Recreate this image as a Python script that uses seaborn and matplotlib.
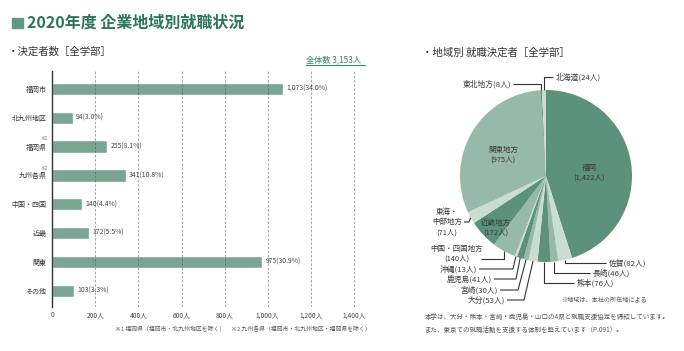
import matplotlib
matplotlib.use("Agg")
import matplotlib.pyplot as plt
import seaborn as sns
import numpy as np
import pandas as pd
from matplotlib.patches import Rectangle

# ---------------- data ----------------
bar_categories = ["福岡市", "北九州地区", "福岡県", "九州各県", "中国・四国", "近畿", "関東", "その他"]
bar_values = [1073, 94, 255, 341, 140, 172, 975, 103]
bar_pcts = [34.0, 3.0, 8.1, 10.8, 4.4, 5.5, 30.9, 3.3]
x_ticks = [0, 200, 400, 600, 800, 1000, 1200, 1400]
x_tick_labels = ["0", "200人", "400人", "600人", "800人", "1,000人", "1,200人", "1,400人"]
total_label = "全体数 3,153人"

pie_regions = ["福岡", "佐賀", "長崎", "熊本", "大分", "宮崎", "鹿児島", "沖縄",
               "中国・四国地方", "近畿地方", "東海・中部地方", "関東地方", "東北地方", "北海道"]
pie_values = [1422, 82, 46, 76, 53, 30, 41, 13, 140, 172, 71, 975, 8, 24]

# ---------------- style ----------------
sns.set_theme(style="white")
plt.rcParams["font.family"] = ["Noto Sans CJK JP", "DejaVu Sans"]

W, H = 684, 351
fig = plt.figure(figsize=(W / 100, H / 100), dpi=100)
fig.patch.set_facecolor("white")


def fx(px):
    return px / W


def fy(py):
    return 1 - py / H


title_green = "#2b7656"
bar_color = "#79a692"
dark, medium, light = "#5c917a", "#96b9a8", "#c9ddd3"
txt = "#3a3a3a"

# title
fig.patches.append(Rectangle((fx(12), fy(28)), 11 / W, 10 / H, transform=fig.transFigure,
                             color="#5f9a80", zorder=5))
fig.text(fx(27), fy(23), "2020年度 企業地域別就職状況", fontsize=11.5, fontweight="bold",
         color=title_green, va="center", ha="left")

fig.text(fx(8), fy(52), "・決定者数［全学部］", fontsize=7.5, color="#333", va="center", ha="left")
fig.text(fx(422), fy(53), "・地域別 就職決定者［全学部］", fontsize=7.5, color="#333", va="center", ha="left")

# ---------------- bar chart ----------------
ax = fig.add_axes([fx(52.3), fy(307.3), (371 - 52.3) / W, (307.3 - 70.7) / H])
df = pd.DataFrame({"cat": bar_categories, "val": bar_values})
sns.barplot(data=df, x="val", y="cat", orient="h", color=bar_color, saturation=1,
            width=0.43, ax=ax)
ax.set_xlim(0, 1480)
ax.set_ylim(7.575, -0.63)
ax.set_xticks(x_ticks)
ax.set_xticklabels(x_tick_labels, fontsize=4.8, color="#444")
ax.tick_params(axis="x", length=0, pad=3)
ax.tick_params(axis="y", length=0, pad=4, labelsize=5, labelcolor="#333")
ax.set_xlabel("")
ax.set_ylabel("")
for t in x_ticks[1:]:
    ax.axvline(t, color="#444", alpha=0.55, lw=0.6, ls=(0, (3, 2)), zorder=4)
for s in ["top", "right", "bottom"]:
    ax.spines[s].set_visible(False)
ax.spines["left"].set_color("#333")
ax.spines["left"].set_linewidth(1.0)
for i, (v, p) in enumerate(zip(bar_values, bar_pcts)):
    ax.text(v + 14, i, f"{v:,}({p:.1f}%)", va="center", ha="left", fontsize=4.9, color="#444")

fig.text(fx(47.5), fy(139), "※1", fontsize=3.3, color="#666", ha="right", va="center")
fig.text(fx(47.5), fy(168), "※2", fontsize=3.3, color="#666", ha="right", va="center")

fig.text(fx(306), fy(60), total_label, fontsize=5.9, color="#3b8565", ha="left", va="center")
fig.add_artist(plt.Line2D([fx(306), fx(365)], [fy(64.5), fy(64.5)], transform=fig.transFigure,
                          color="#3b8565", lw=0.8))

fig.text(fx(115), fy(329), "※1 福岡県（福岡市・北九州地区を除く）　※2 九州各県（福岡市・北九州地区・福岡県を除く）",
         fontsize=4.2, color="#555", ha="left", va="center")

# ---------------- pie chart ----------------
CX, CY, R = 546, 176, 86
ax2 = fig.add_axes([fx(405), fy(346), (684 - 405) / W, (346 - 60) / H])
cyc = [dark, light, medium]
pie_colors = [cyc[i % 3] for i in range(len(pie_values))]
wedges, _ = ax2.pie(pie_values, colors=pie_colors, startangle=90, counterclock=False,
                    radius=1, center=(0, 0), wedgeprops=dict(linewidth=0))
ax2.set_xlim((405 - CX) / R, (684 - CX) / R)
ax2.set_ylim((CY - 346) / R, (CY - 60) / R)
ax2.axis("off")


def P(px, py):
    return ((px - CX) / R, (CY - py) / R)


def edge(i):
    a = np.deg2rad((wedges[i].theta1 + wedges[i].theta2) / 2)
    return (np.cos(a), np.sin(a))


def pt(x, y, s, ha="center", fs=5.6, **kw):
    X, Y = P(x, y)
    ax2.text(X, Y, s, ha=ha, va="center", fontsize=fs, color=txt, linespacing=1.35, **kw)


def line(points):
    xs = [p[0] for p in points]
    ys = [p[1] for p in points]
    ax2.plot(xs, ys, color="#333", lw=0.8, solid_capstyle="butt")


idx = {n: i for i, n in enumerate(pie_regions)}

# inside labels
pt(589, 173, f"{pie_regions[0]}\n({pie_values[0]:,}人)", fs=5.4)
pt(503, 155, f"{pie_regions[11]}\n({pie_values[11]:,}人)", fs=5.4)
pt(496, 228, f"{pie_regions[9]}\n({pie_values[9]:,}人)", fs=5.4)

# top labels
e = edge(idx["北海道"])
pt(556, 77, f"北海道({pie_values[idx['北海道']]}人)", ha="left")
line([P(553, 77), (e[0], P(0, 77)[1]), e])
e = edge(idx["東北地方"])
pt(511, 84, f"東北地方({pie_values[idx['東北地方']]}人)", ha="right")
line([P(513, 84), (e[0], P(0, 84)[1]), e])

# right-bottom labels
for name, tx, ty in [("佐賀", 609, 263), ("長崎", 593, 273), ("熊本", 577, 283)]:
    e = edge(idx[name])
    pt(tx, ty, f"{name}({pie_values[idx[name]]}人)", ha="left")
    line([P(tx - 3, ty), (e[0], P(0, ty)[1]), e])

# left-bottom labels
for name, tx, ty, ex in [("大分", 505, 300, 524), ("宮崎", 498, 290, 518),
                         ("鹿児島", 492, 279, 516), ("沖縄", 477, 269, 513)]:
    e = edge(idx[name])
    pt(tx, ty, f"{name}({pie_values[idx[name]]}人)", ha="right")
    line([P(tx + 2, ty), P(ex, ty), e])

# 中国・四国
e = edge(idx["中国・四国地方"])
pt(457, 254, f"中国・四国地方\n({pie_values[idx['中国・四国地方']]}人)", fs=5.4)
line([P(481, 259), (e[0], P(0, 259)[1]), e])

# 東海・中部
e = edge(idx["東海・中部地方"])
pt(447, 222, f"東海・\n中部地方\n({pie_values[idx['東海・中部地方']]}人)", fs=5.4)
line([P(464, 222), P(469, 222), e])

fig.text(fx(561), fy(300), "※地域は、本社の所在地による", fontsize=4.4, color="#555", ha="left", va="center")
fig.text(fx(425), fy(318), "本学は、大分・熊本・宮崎・鹿児島・山口の4県と就職支援協定を締結しています。",
         fontsize=4.7, color="#555", ha="left", va="center")
fig.text(fx(425), fy(330), "また、東京での就職活動を支援する体制を整えています（P.091）。",
         fontsize=4.7, color="#555", ha="left", va="center")

fig.savefig("out.png", dpi=100, facecolor="white")
